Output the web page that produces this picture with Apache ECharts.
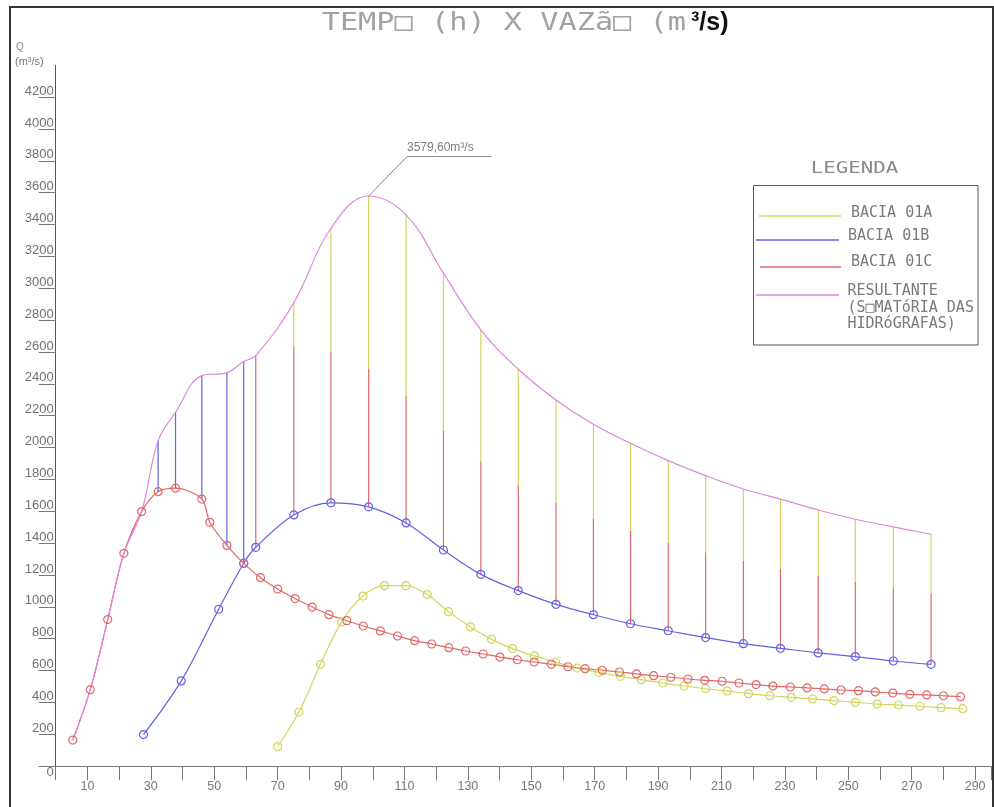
<!DOCTYPE html>
<html>
<head>
<meta charset="utf-8">
<script src="https://cdn.jsdelivr.net/npm/echarts@6/dist/echarts.min.js"></script>
<style>html,body{margin:0;padding:0;background:#fff}#c{width:994px;height:807px}</style>
</head>
<body>
<div id="c"></div>
<script>
// ---- data ----
const xTickLabels = [10, 30, 50, 70, 90, 110, 130, 150, 170, 190, 210, 230, 250, 270, 290];
const yTickValues = [0, 200, 400, 600, 800, 1000, 1200, 1400, 1600, 1800, 2000, 2200, 2400, 2600, 2800, 3000, 3200, 3400, 3600, 3800, 4000, 4200];

// BACIA 01C (red)
const redX = [5.4, 10.9, 16.4, 21.5, 27.1, 32.3, 37.8, 46.1, 48.6, 54.0, 59.3, 64.6, 70.0, 75.5, 80.9, 86.2, 91.8, 97.0, 102.4, 107.8, 113.2, 118.6, 124.0, 129.3, 134.8, 140.1, 145.6, 150.9, 156.3, 161.6, 167.0, 172.4, 177.8, 183.2, 188.6, 194.0, 199.4, 204.7, 210.2, 215.5, 220.9, 226.2, 231.7, 237.0, 242.4, 247.7, 253.2, 258.5, 264.0, 269.4, 274.7, 280.0, 285.4];
const redQ = [164, 480, 920, 1336, 1598, 1723, 1745, 1677, 1531, 1386, 1273, 1183, 1112, 1052, 999, 951, 913, 880, 849, 817, 788, 767, 744, 723, 704, 685, 668, 654, 639, 624, 612, 602, 591, 579, 568, 558, 547, 539, 533, 522, 512, 503, 497, 491, 485, 478, 474, 466, 459, 451, 447, 442, 436];

// BACIA 01B (blue)
const blueX = [27.7, 39.6, 51.4, 59.3, 63.1, 75.1, 86.8, 98.7, 110.5, 122.3, 134.1, 145.9, 157.8, 169.6, 181.3, 193.2, 205.0, 216.9, 228.6, 240.5, 252.2, 264.2, 276.1];
const blueQ = [198, 535, 985, 1274, 1374, 1577, 1653, 1628, 1527, 1357, 1204, 1102, 1016, 951, 894, 850, 807, 769, 740, 711, 688, 660, 639];

// BACIA 01A (yellow)
const yellowX = [70.0, 76.7, 83.5, 90.2, 96.9, 103.7, 110.5, 117.2, 123.9, 130.8, 137.5, 144.1, 151.0, 157.7, 164.4, 171.3, 178.1, 184.7, 191.5, 198.2, 205.0, 211.8, 218.5, 225.3, 232.0, 238.7, 245.5, 252.2, 259.1, 265.8, 272.6, 279.3, 286.1];
const yellowQ = [122, 340, 639, 907, 1068, 1133, 1133, 1077, 970, 874, 796, 738, 692, 654, 616, 589, 564, 543, 522, 503, 486, 472, 455, 442, 432, 422, 411, 401, 390, 384, 376, 367, 361];

// RESULTANTE (purple)
const resultX = [5.4, 10.9, 16.4, 21.5, 27.1, 32.3, 37.8, 46.1, 54.0, 59.3, 63.1, 75.1, 86.8, 98.7, 110.5, 122.3, 134.1, 145.9, 157.8, 169.6, 181.3, 193.2, 205.0, 216.9, 228.6, 240.5, 252.2, 264.2, 276.1];
const resultQ = [164, 480, 920, 1336, 1598, 2042, 2222, 2452, 2471, 2540, 2577, 2910, 3377, 3579.6, 3461, 3095, 2739, 2492, 2299, 2146, 2027, 1918, 1824, 1740, 1676, 1608, 1550, 1502, 1456];

// vertical summation stems
const blueStemX = [32.3, 37.8, 46.1, 54.0, 59.3];
const redStemX = [63.1, 75.1, 86.8, 98.7, 110.5, 122.3, 134.1, 145.9, 157.8, 169.6, 181.3, 193.2, 205.0, 216.9, 228.6, 240.5, 252.2, 264.2, 276.1];
const redStemTop = [2577, 2632, 2599, 2494, 2326, 2106, 1912, 1765, 1654, 1556, 1478, 1403, 1343, 1288, 1238, 1196, 1158, 1121, 1085];

// peak annotation leader
const peakLeaderX = [98.7, 110.8, 137.4];
const peakLeaderQ = [3579.6, 3827, 3827];
const peakText = '3579,60m³/s';

// ---- build ----
const C_Y = '#d4d45c', C_B = '#6262e2', C_R = '#e06868', C_P = '#de86e2';
const pairs = (xs, ys) => xs.map((x, i) => [x, ys[i]]);
const look = (xs, ys, x) => ys[xs.indexOf(x)];

const blueStems = blueStemX.map(x => [x, look(redX, redQ, x), look(resultX, resultQ, x)]);
const redStems = redStemX.map((x, i) => [x, look(blueX, blueQ, x), redStemTop[i]]);
const yellowStems = redStemX.map((x, i) => [x, redStemTop[i], look(resultX, resultQ, x)]).filter(d => d[2] > d[1] + 1);

function stemSeries(name, data, color) {
  return {
    name, type: 'custom', data, z: 1,
    encode: { x: 0, y: [1, 2] },
    renderItem: (params, api) => {
      const p0 = api.coord([api.value(0), api.value(1)]);
      const p1 = api.coord([api.value(0), api.value(2)]);
      return { type: 'line', shape: { x1: p0[0], y1: p0[1], x2: p1[0], y2: p1[1] }, style: { stroke: color, lineWidth: 1.2 } };
    }
  };
}
function curve(name, data, color, marker, smooth) {
  return {
    name, type: 'line', data, smooth: smooth, z: 3,
    symbol: marker ? 'circle' : 'none', symbolSize: 8, showSymbol: !!marker,
    lineStyle: { color, width: 1.2 },
    itemStyle: { color: 'rgba(0,0,0,0)', borderColor: color, borderWidth: 1.2 },
    emphasis: { disabled: true }
  };
}

const cad = '"DejaVu Sans Mono"';
const legendItems = [
  { text: 'BACIA 01A', color: C_Y, lx1: 759, lx2: 841, ly: 216, tx: 851, ty: 211 },
  { text: 'BACIA 01B', color: C_B, lx1: 756, lx2: 839, ly: 240, tx: 848, ty: 234 },
  { text: 'BACIA 01C', color: C_R, lx1: 760, lx2: 841, ly: 267, tx: 851, ty: 259.5 },
  { text: 'RESULTANTE\n(S□MATóRIA DAS\nHIDRóGRAFAS)', color: C_P, lx1: 756, lx2: 839, ly: 295, tx: 847.5, ty: 289 }
];
const graphics = [
  { type: 'rect', shape: { x: 10, y: 7, width: 983, height: 900 }, style: { fill: 'none', stroke: '#333', lineWidth: 2 }, silent: true },
  { type: 'text', x: 321.7, y: 23, scaleX: 1.21, style: { text: 'TEMP□ (h) X VAZã□ (m', font: '25px ' + cad, fill: '#a2a2a2', textVerticalAlign: 'middle' } },
  { type: 'text', x: 691, y: 23, style: { text: '³/s)', font: 'bold 25px "Liberation Sans"', fill: '#111', textVerticalAlign: 'middle' } },
  { type: 'text', x: 16, y: 47, style: { text: 'Q', font: '10px "Liberation Sans"', fill: '#888', textVerticalAlign: 'middle' } },
  { type: 'text', x: 15, y: 62, style: { text: '(m³/s)', font: '11px "Liberation Sans"', fill: '#777', textVerticalAlign: 'middle' } },
  { type: 'text', x: 810.7, y: 168.5, scaleX: 1.3, style: { text: 'LEGENDA', font: '16px ' + cad, fill: '#8a8a8a', textVerticalAlign: 'middle' } },
  { type: 'rect', shape: { x: 753.5, y: 185.5, width: 224.5, height: 159.5 }, style: { fill: 'none', stroke: '#555', lineWidth: 1 } }
];
legendItems.forEach(it => {
  graphics.push({ type: 'line', shape: { x1: it.lx1, y1: it.ly, x2: it.lx2, y2: it.ly }, style: { stroke: it.color, lineWidth: 1.3 } });
  graphics.push({ type: 'text', x: it.tx, y: it.ty - 6, style: { text: it.text, font: '15px ' + cad, fill: '#7a7a7a', textVerticalAlign: 'top', lineHeight: 16.5 } });
});

const option = {
  animation: false,
  backgroundColor: '#fff',
  grid: { left: 55.7, top: 65.3, width: 937.5, height: 700.85, containLabel: false },
  xAxis: {
    type: 'value', min: 0, max: 295, interval: 10,
    axisLine: { lineStyle: { color: '#777', width: 1 } },
    axisTick: { show: true, length: 14, lineStyle: { color: '#777' } },
    axisLabel: { color: '#777', fontFamily: 'Liberation Sans', fontSize: 12.5, margin: 14, showMaxLabel: true,
      formatter: v => xTickLabels.includes(v) ? String(v) : '' },
    splitLine: { show: false }
  },
  yAxis: {
    type: 'value', min: 0, max: 4400, interval: 200,
    axisLine: { show: true, lineStyle: { color: '#555', width: 1 } },
    axisTick: { show: true, length: 17, customValues: yTickValues, lineStyle: { color: '#777' } },
    axisLabel: { customValues: yTickValues, color: '#707070', fontFamily: 'Liberation Sans', fontSize: 13, margin: 2, lineHeight: 12,
      formatter: v => v === 0 ? '\n0' : v + '\n' },
    splitLine: { show: false }
  },
  series: [
    stemSeries('blueStems', blueStems, C_B),
    stemSeries('redStems', redStems, C_R),
    stemSeries('yellowStems', yellowStems, C_Y),
    curve('BACIA 01A', pairs(yellowX, yellowQ), C_Y, true, 0.35),
    curve('BACIA 01B', pairs(blueX, blueQ), C_B, true, 0.35),
    curve('BACIA 01C', pairs(redX, redQ), C_R, true, 0.3),
    curve('RESULTANTE', pairs(resultX, resultQ), C_P, false, 0.4),
    {
      name: 'peakLeader', type: 'line', data: pairs(peakLeaderX, peakLeaderQ), symbol: 'none', z: 5,
      lineStyle: { color: '#888', width: 1 }, emphasis: { disabled: true }
    },
    {
      name: 'peakLabel', type: 'scatter', z: 6, symbol: 'circle', symbolSize: 1,
      itemStyle: { color: 'rgba(0,0,0,0)' },
      data: [[peakLeaderX[1], peakLeaderQ[1]]],
      label: { show: true, position: 'top', align: 'left', distance: 2, color: '#5a5a5a', fontFamily: 'Liberation Sans', fontSize: 12,
        formatter: () => peakText },
      emphasis: { disabled: true }
    }
  ],
  graphic: graphics
};

const chart = echarts.init(document.getElementById('c'), null, { renderer: 'canvas' });
chart.setOption(option);
</script>
</body>
</html>
